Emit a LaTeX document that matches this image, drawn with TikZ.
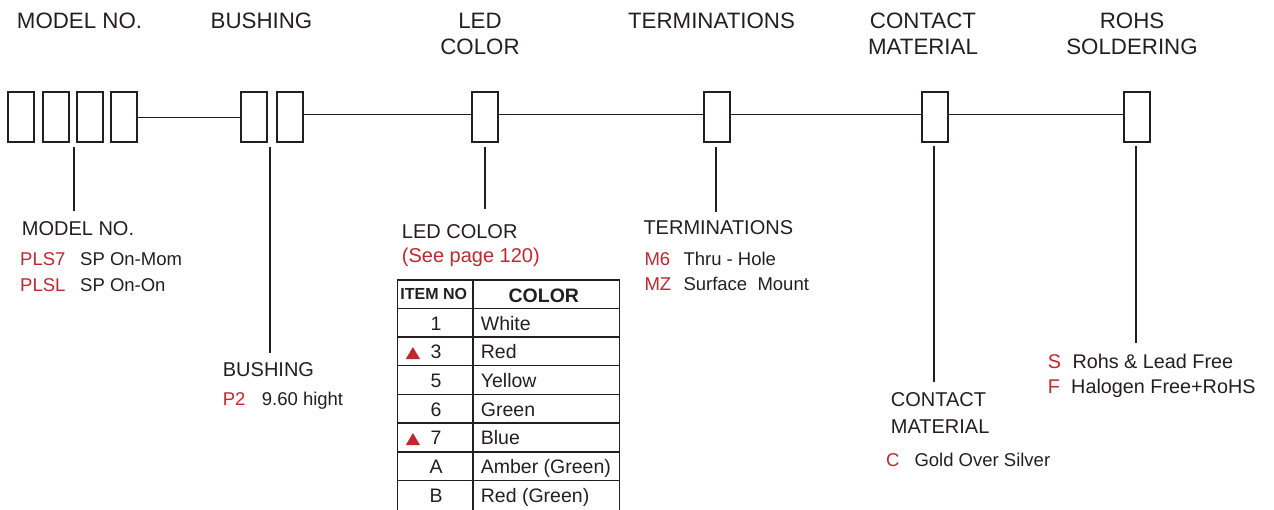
\documentclass[tikz,border=0pt]{standalone}
\usepackage{fontspec}
\setmainfont{Liberation Sans}
\definecolor{ink}{HTML}{231F20}
\definecolor{codered}{HTML}{C1272D}
\begin{document}
\begin{tikzpicture}[x=1pt,y=-1pt,
  box/.style={draw=ink, line width=1.8pt, minimum width=26pt, minimum height=50pt, inner sep=0pt, fill=white},
  conn/.style={draw=ink, line width=1.8pt},
  grid/.style={draw=ink, line width=1.5pt},
  hdr/.style={inner sep=0pt, anchor=north, text=ink, align=center, font=\fontsize{22.3}{26}\selectfont},
  ttl/.style={inner sep=0pt, anchor=base west, text=ink, font=\fontsize{20}{26.7}\selectfont},
  ttltwo/.style={inner sep=0pt, anchor=north west, text=ink, align=left, font=\fontsize{20}{26.7}\selectfont},
  code/.style={inner sep=0pt, anchor=base west, text=codered, font=\fontsize{18.5}{22}\selectfont},
  desc/.style={inner sep=0pt, anchor=base west, text=ink, font=\fontsize{18.5}{22}\selectfont},
  codebig/.style={code, font=\fontsize{19.8}{22}\selectfont},
  descbig/.style={desc, font=\fontsize{19.8}{22}\selectfont},
  thd/.style={inner sep=0pt, anchor=base, text=ink, font=\bfseries\fontsize{16}{19}\selectfont},
  thdb/.style={inner sep=0pt, anchor=base, text=ink, font=\bfseries\fontsize{19.5}{22}\selectfont},
  num/.style={inner sep=0pt, anchor=base, text=ink, font=\fontsize{19.5}{22}\selectfont},
  cname/.style={inner sep=0pt, anchor=base west, text=ink, font=\fontsize{19.5}{22}\selectfont},
  tri/.style={fill=codered, draw=none}
]
\useasboundingbox (0,0) rectangle (1274,509);

% headers
\node[hdr] (hmodel) at (79.5,12.7) {MODEL NO.};
\node[hdr] (hbush) at (261.5,12.7) {BUSHING};
\node[hdr] (hled) at (480,12.7) {LED\\COLOR};
\node[hdr] (hterm) at (711.5,12.7) {TERMINATIONS};
\node[hdr] (hcont) at (923,12.7) {CONTACT\\MATERIAL};
\node[hdr] (hrohs) at (1132,12.7) {ROHS\\SOLDERING};

% boxes
\node[box] (m1) at (21.3,117) {};
\node[box] (m2) at (55.7,117) {};
\node[box] (m3) at (89.7,117) {};
\node[box] (m4) at (123.7,117) {};
\node[box] (b1) at (254,117) {};
\node[box] (b2) at (289.7,117) {};
\node[box] (led) at (485.2,117) {};
\node[box] (term) at (716.8,117) {};
\node[box] (cont) at (934.7,117) {};
\node[box] (rohs) at (1136.9,117) {};

% horizontal connectors
\draw[conn] ([yshift=-0.5pt]m4.east) -- ([yshift=-0.5pt]b1.west);
\draw[conn] ([yshift=2.5pt]b2.east) -- ([yshift=2.5pt]led.west);
\draw[conn] ([yshift=2.5pt]led.east) -- ([yshift=2.5pt]term.west);
\draw[conn] ([yshift=2.5pt]term.east) -- ([yshift=2.5pt]cont.west);
\draw[conn] ([yshift=2.5pt]cont.east) -- ([yshift=2.5pt]rohs.west);

% vertical connectors
\coordinate (vmt) at (74,146.5);    \coordinate (vmb) at (74,211);
\coordinate (vbt) at (269.7,146.5); \coordinate (vbb) at (269.7,353);
\coordinate (vlt) at (485,146.7);   \coordinate (vlb) at (485,209.3);
\coordinate (vtt) at (716,146.7);   \coordinate (vtb) at (716,211.5);
\coordinate (vct) at (934.3,146);   \coordinate (vcb) at (934.3,381.7);
\coordinate (vrt) at (1135.7,146);  \coordinate (vrb) at (1135.7,343.3);
\draw[conn] (vmt) -- (vmb);
\draw[conn] (vbt) -- (vbb);
\draw[conn] (vlt) -- (vlb);
\draw[conn] (vtt) -- (vtb);
\draw[conn] (vct) -- (vcb);
\draw[conn] (vrt) -- (vrb);

% model no
\node[ttl] (tmodel) at (21.7,235) {MODEL NO.};
\node[code] (cpls7) at (20,265.3) {PLS7};
\node[desc] (dpls7) at (80,265.3) {SP On-Mom};
\node[code] (cplsl) at (20,291.7) {PLSL};
\node[desc] (dplsl) at (80,291.7) {SP On-On};

% bushing
\node[ttl] (tbush) at (222.7,376.7) {BUSHING};
\node[code] (cp2) at (222.7,405) {P2};
\node[desc] (dp2) at (261.7,405) {9.60 hight};

% led color
\node[ttl] (tled) at (401.7,238.3) {LED COLOR};
\node[inner sep=0pt, anchor=base west, text=codered, font=\fontsize{20}{24}\selectfont] (tsee) at (401.7,262) {(See page 120)};

% table grid
\draw[grid] (397.3,510) -- (397.3,280) -- (619.3,280) -- (619.3,510);
\draw[grid] (473,280) -- (473,510);
\foreach \y in {308.3,337,365.7,394.4,423.1,451.8,480.5} {
  \draw[grid] (397.3,\y) -- (619.3,\y);
}
\node[thd] (thitem) at (433.7,299.3) {ITEM NO};
\node[thdb] (thcolor) at (543.8,302.3) {COLOR};
\node[num] (n1) at (436,330) {1};
\node[cname] (c1) at (480.7,330) {White};
\node[num] (n3) at (436,358.7) {3};
\node[cname] (c3) at (480.7,358.7) {Red};
\node[num] (n5) at (436,387.4) {5};
\node[cname] (c5) at (480.7,387.4) {Yellow};
\node[num] (n6) at (436,416.1) {6};
\node[cname] (c6) at (480.7,416.1) {Green};
\node[num] (n7) at (436,444.8) {7};
\node[cname] (c7) at (480.7,444.8) {Blue};
\node[num] (nA) at (436,473.5) {A};
\node[cname] (cA) at (480.7,473.5) {Amber (Green)};
\node[num] (nB) at (436,502.2) {B};
\node[cname] (cB) at (480.7,502.2) {Red (Green)};
\fill[tri] (405.8,359) -- (420,359) -- (412.9,347) -- cycle;
\fill[tri] (405.8,445.1) -- (420,445.1) -- (412.9,433.1) -- cycle;

% terminations
\node[ttl] (tterm) at (643.3,234.3) {TERMINATIONS};
\node[code] (cm6) at (644.3,265) {M6};
\node[desc] (dm6) at (683.3,265) {Thru - Hole};
\node[code] (cmz) at (644.3,290) {MZ};
\node[desc] (dmz) at (683.3,290) {Surface\ \ Mount};

% contact material
\node[ttltwo] (tcont) at (890.7,392.7) {CONTACT\\MATERIAL};
\node[code] (cc) at (886,466) {C};
\node[desc] (dc) at (914.3,466) {Gold Over Silver};

% rohs
\node[codebig] (cs) at (1047.7,368.3) {S};
\node[descbig] (ds) at (1072.3,368.3) {Rohs \& Lead Free};
\node[codebig] (cf) at (1047.7,393.3) {F};
\node[descbig] (df) at (1071,393.3) {Halogen Free+RoHS};
\end{tikzpicture}
\end{document}
